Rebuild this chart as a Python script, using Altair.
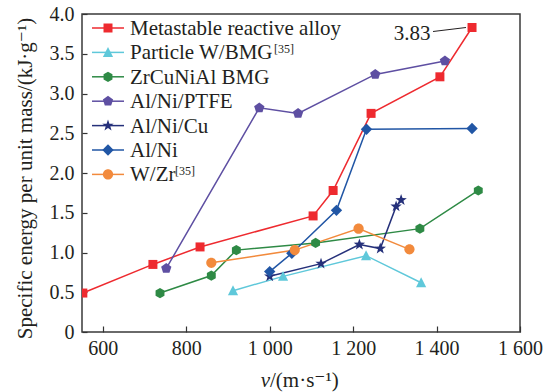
import altair as alt
import pandas as pd

FONT = "Liberation Serif, Times New Roman, DejaVu Serif, serif"
INK = "#231f20"

# Series, in legend order
names = ["Metastable reactive alloy", "Particle W/BMG", "ZrCuNiAl BMG",
         "Al/Ni/PTFE", "Al/Ni/Cu", "Al/Ni", "W/Zr"]
refs = ["", "[35]", "", "", "", "", "[35]"]
colors = ["#EE2A2F", "#5FC8DA", "#2E8A45", "#5E4FA2", "#25307A", "#2156A5", "#F28A3C"]

# Marker outlines in symbol units (all drawn at one common symbol size)
SQUARE = "M-0.75,-0.75H0.75V0.75H-0.75Z"
TRIANGLE = "M0,-0.9L0.85,0.75L-0.85,0.75Z"
HEXAGON = "M0,-0.85L0.74,-0.43L0.74,0.43L0,0.85L-0.74,0.43L-0.74,-0.43Z"
PENTAGON = "M0,-0.9L0.856,-0.278L0.529,0.728L-0.529,0.728L-0.856,-0.278Z"
STAR = ("M0,-1L0.235,-0.324L0.951,-0.309L0.38,0.124L0.588,0.809L0,0.4"
        "L-0.588,0.809L-0.38,0.124L-0.951,-0.309L-0.235,-0.324Z")
DIAMOND = "M0,-0.95L0.95,0L0,0.95L-0.95,0Z"
CIRCLE = "M0.85,0A0.85,0.85,0,1,1,-0.85,0A0.85,0.85,0,1,1,0.85,0Z"
shapes = [SQUARE, TRIANGLE, HEXAGON, PENTAGON, STAR, DIAMOND, CIRCLE]

# Impact velocity (m/s) and specific energy (kJ/g) per material
metastable_v = [552, 720, 833, 1104, 1152, 1243, 1408, 1485]
metastable_e = [0.49, 0.85, 1.07, 1.46, 1.78, 2.75, 3.21, 3.83]
particle_v = [912, 1032, 1231, 1363]
particle_e = [0.52, 0.70, 0.96, 0.62]
zrcunial_v = [737, 860, 920, 1110, 1360, 1500]
zrcunial_e = [0.49, 0.71, 1.03, 1.12, 1.30, 1.78]
alniptfe_v = [752, 975, 1068, 1253, 1420]
alniptfe_e = [0.80, 2.82, 2.75, 3.24, 3.41]
alnicu_v = [1000, 1123, 1215, 1265, 1303, 1315]
alnicu_e = [0.70, 0.86, 1.10, 1.05, 1.58, 1.66]
alni_v = [1000, 1053, 1160, 1232, 1485]
alni_e = [0.76, 0.99, 1.53, 2.55, 2.56]
wzr_v = [860, 1060, 1213, 1335]
wzr_e = [0.87, 1.03, 1.30, 1.04]

x_ticks = [600, 800, 1000, 1200, 1400, 1600]
y_ticks = [0, 0.5, 1.0, 1.5, 2.0, 2.5, 3.0, 3.5, 4.0]

series = [
    (metastable_v, metastable_e), (particle_v, particle_e),
    (zrcunial_v, zrcunial_e), (alniptfe_v, alniptfe_e),
    (alnicu_v, alnicu_e), (alni_v, alni_e), (wzr_v, wzr_e),
]
rows = []
for name, (vs, es) in zip(names, series):
    for v, e in zip(vs, es):
        rows.append({"name": name, "v": v, "e": e})
df = pd.DataFrame(rows)

W, H = 438, 318

xs = alt.Scale(domain=[550, 1600], nice=False, zero=False)
ys = alt.Scale(domain=[0, 4], nice=False, zero=False)
color = alt.Color("name:N", scale=alt.Scale(domain=names, range=colors), legend=None)
shape = alt.Shape("name:N", scale=alt.Scale(domain=names, range=shapes), legend=None)

# Axes carrying the labels (no ticks)
x_label_axis = alt.Axis(
    values=x_ticks, tickSize=0, domain=False, grid=False, title=None,
    labelFont=FONT, labelFontSize=20, labelColor=INK, labelPadding=6,
    labelFlush=False, labelOverlap=False,
    labelExpr="replace(format(datum.value, ','), ',', ' ')",
)
y_label_axis = alt.Axis(
    values=y_ticks, tickSize=0, domain=False, grid=False,
    labelFont=FONT, labelFontSize=20, labelColor=INK, labelPadding=8,
    labelFlush=False, labelOverlap=False,
    labelExpr="datum.value == 0 ? '0' : format(datum.value, '.1f')",
    title="Specific energy per unit mass/(kJ·g⁻¹)",
    titleFont=FONT, titleFontSize=21, titleFontWeight="normal", titleColor=INK,
    titleAngle=270, titleX=-51, titleY=164, titleAlign="center",
    titleBaseline="alphabetic",
)
# Axes carrying inward-pointing ticks, moved onto the bottom / left frame
x_tick_axis = alt.Axis(
    orient="top", offset=-H, values=x_ticks, labels=False, tickSize=6,
    tickColor="#333333", tickWidth=1.2, domain=False, grid=False, title=None,
)
y_tick_axis = alt.Axis(
    orient="right", offset=-W, values=y_ticks, labels=False, tickSize=5,
    tickColor="#333333", tickWidth=1.2, domain=False, grid=False, title=None,
)

base = alt.Chart(df)

lines = base.mark_line(strokeWidth=1.5, clip=True).encode(
    x=alt.X("v:Q", scale=xs, axis=x_label_axis),
    y=alt.Y("e:Q", scale=ys, axis=y_label_axis),
    color=color,
    detail="name:N",
)

points = base.mark_point(filled=True, opacity=1, size=144, strokeWidth=0, clip=True).encode(
    x=alt.X("v:Q", scale=xs, axis=x_tick_axis),
    y=alt.Y("e:Q", scale=ys, axis=y_tick_axis),
    color=color,
    shape=shape,
)

# Peak value callout
peak = df[df["name"] == names[0]].nlargest(1, "e")
peak_text = alt.Chart(peak).mark_text(
    font=FONT, fontSize=21, color=INK, dx=-60, dy=6, baseline="middle", align="center"
).encode(
    x=alt.X("v:Q", scale=xs, axis=None),
    y=alt.Y("e:Q", scale=ys, axis=None),
    text=alt.Text("e:Q", format=".2f"),
)
peak_leader = alt.Chart(peak).mark_rule(
    color=INK, strokeWidth=1, xOffset=-6, x2Offset=-39, y2Offset=4
).encode(
    x=alt.X("v:Q", scale=xs, axis=None),
    y=alt.Y("e:Q", scale=ys, axis=None),
    x2="v:Q",
    y2="e:Q",
)

# Legend rows
leg = pd.DataFrame({"name": names, "ref": refs, "row": list(range(len(names)))})
row_y = alt.Y("row:Q", scale=alt.Scale(domain=[0, 6], range=[14, 160.4]), axis=None)
leg_base = alt.Chart(leg)
leg_line = leg_base.mark_rule(strokeWidth=1.5).encode(
    x=alt.value(10), x2=alt.value(42), y=row_y, color=color
)
leg_mark = leg_base.mark_point(filled=True, opacity=1, size=144, strokeWidth=0).encode(
    x=alt.value(26), y=row_y, color=color, shape=shape
)
leg_text = leg_base.mark_text(
    font=FONT, fontSize=21, color=INK, align="left", baseline="alphabetic", dy=7
).encode(x=alt.value(48), y=row_y, text="name:N")
leg_ref_particle = alt.Chart(leg[leg["row"] == 1]).mark_text(
    font=FONT, fontSize=12, color=INK, align="left", baseline="alphabetic", dy=1
).encode(x=alt.value(192), y=row_y, text="ref:N")
leg_ref_wzr = alt.Chart(leg[leg["row"] == 6]).mark_text(
    font=FONT, fontSize=12, color=INK, align="left", baseline="alphabetic", dy=1
).encode(x=alt.value(93), y=row_y, text="ref:N")

# x-axis title with italic velocity symbol
xt_sym = alt.Chart(pd.DataFrame({"t": ["v"]})).mark_text(
    font=FONT, fontSize=21, fontStyle="italic", color=INK, align="right",
    baseline="alphabetic"
).encode(x=alt.value(188), y=alt.value(373), text="t:N")
xt_unit = alt.Chart(pd.DataFrame({"t": ["/(m·s⁻¹)"]})).mark_text(
    font=FONT, fontSize=21, color=INK, align="left", baseline="alphabetic"
).encode(x=alt.value(188), y=alt.value(373), text="t:N")

chart = alt.layer(
    lines, points, peak_leader, peak_text,
    leg_line, leg_mark, leg_text, leg_ref_particle, leg_ref_wzr,
    xt_sym, xt_unit,
).resolve_scale(
    x="independent", y="independent", color="independent", shape="independent"
).resolve_axis(
    x="independent", y="independent"
).properties(
    width=W, height=H,
    padding={"left": 82, "top": 14, "right": 23, "bottom": 60},
    autosize=alt.AutoSizeParams(type="none"),
    background="white",
).configure_view(
    stroke="#3a3a3a", strokeWidth=1.5
)

chart.save("out.html", embed_options={"renderer": "svg", "actions": False})
